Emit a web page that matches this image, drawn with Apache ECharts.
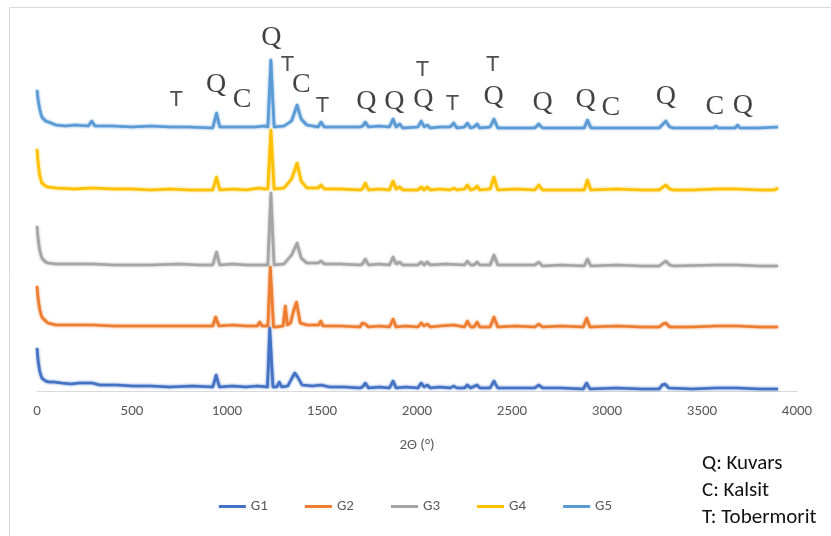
<!DOCTYPE html>
<html>
<head>
<meta charset="utf-8">
<script src="https://cdn.jsdelivr.net/npm/echarts/dist/echarts.min.js"></script>
<style>
html, body { margin: 0; padding: 0; background: #fff; }
#chart { width: 831px; height: 536px; }
</style>
</head>
<body>
<div id="chart"></div>
<script>
// X-ray diffraction patterns of five samples, stacked with vertical offsets.
const seriesNames = ['G1', 'G2', 'G3', 'G4', 'G5'];
const seriesColors = ['#4472C4', '#ED7D31', '#A5A5A5', '#FFC000', '#5B9BD5'];

const xTickStep = 500;
const xMin = 0;
const xMax = 4000;

// [2θ, intensity] pairs (intensity includes the stacking offset)
const g1 = [[0,43],[6,30],[14,20],[25,13],[45,10],[60,9],[90,9],[129,8],[180,7],[220,8],[255,8],[290,8],[330,6],[420,6],[500,5],[600,5],[700,4],[820,5],[925,4],[943,16],[960,4],[1030,5],[1100,4],[1160,5],[1213,4],[1225,63],[1242,4],[1262,4],[1275,9],[1288,4],[1320,5],[1342,13],[1357,18],[1372,14],[1395,6],[1450,5],[1495,6],[1540,4],[1620,4],[1700,3],[1713,4],[1728,8],[1745,3],[1800,4],[1855,3],[1874,10],[1890,3],[1940,4],[2005,3],[2022,8],[2038,4],[2054,6],[2070,3],[2120,4],[2175,3],[2193,5],[2210,3],[2250,3],[2265,6],[2282,3],[2317,6],[2330,3],[2385,3],[2405,10],[2425,3],[2520,3],[2620,3],[2641,6],[2660,3],[2760,3],[2875,2],[2893,8],[2910,2],[3050,3],[3180,2],[3275,2],[3290,6],[3305,7],[3325,3],[3450,2],[3573,3],[3687,3],[3800,2],[3900,2]];

const g2 = [[0,105],[6,92],[14,82],[25,74],[45,70],[58,68],[100,66],[200,66],[300,66],[400,65],[500,65],[600,65],[700,65],[800,65],[925,65],[940,74],[958,65],[1030,66],[1100,65],[1160,65],[1172,69],[1185,65],[1215,65],[1228,124],[1245,64],[1258,64],[1295,65],[1307,85],[1318,66],[1335,68],[1350,80],[1366,89],[1385,68],[1420,66],[1482,66],[1494,70],[1505,65],[1600,65],[1700,64],[1712,68],[1720,66],[1728,67],[1745,64],[1800,65],[1855,64],[1874,72],[1890,64],[1940,65],[2005,64],[2022,68],[2038,65],[2054,67],[2070,64],[2120,65],[2193,66],[2250,64],[2265,70],[2282,64],[2300,64],[2317,69],[2330,64],[2385,64],[2405,74],[2425,64],[2520,65],[2620,64],[2641,67],[2660,64],[2760,65],[2875,64],[2893,73],[2910,64],[3050,65],[3180,64],[3275,64],[3295,67],[3309,68],[3330,64],[3450,64],[3573,65],[3687,65],[3800,64],[3900,64]];

const g3 = [[0,165],[6,152],[14,141],[25,133],[45,129],[58,128],[100,127],[200,127],[300,127],[400,126],[500,126],[600,126],[750,127],[850,126],[925,126],[945,139],[962,126],[1030,127],[1100,126],[1160,126],[1215,126],[1231,198],[1248,126],[1300,127],[1340,136],[1369,148],[1390,133],[1420,128],[1480,128],[1495,130],[1512,127],[1600,127],[1700,126],[1713,127],[1728,132],[1745,126],[1800,127],[1855,126],[1874,134],[1890,127],[1909,129],[1925,126],[2005,126],[2022,129],[2038,126],[2054,129],[2070,126],[2150,127],[2250,126],[2265,130],[2282,126],[2300,126],[2317,129],[2330,126],[2385,126],[2405,136],[2425,126],[2520,126],[2620,126],[2641,129],[2660,125],[2760,126],[2880,125],[2897,132],[2915,125],[3050,126],[3180,125],[3275,125],[3295,128],[3309,130],[3330,126],[3350,125],[3573,126],[3687,126],[3800,125],[3900,125]];

const g4 = [[0,242],[6,228],[14,216],[25,208],[45,205],[58,204],[100,203],[200,202],[288,203],[400,202],[500,202],[600,201],[700,202],[800,201],[925,201],[945,214],[962,201],[1030,202],[1100,201],[1170,203],[1195,202],[1215,202],[1231,261],[1248,202],[1300,203],[1340,212],[1369,228],[1390,210],[1420,203],[1480,203],[1495,206],[1512,202],[1600,202],[1700,201],[1713,202],[1728,208],[1745,201],[1800,202],[1855,201],[1874,210],[1890,202],[1909,204],[1925,201],[2005,201],[2022,204],[2038,201],[2054,204],[2070,201],[2120,202],[2175,201],[2193,203],[2210,201],[2250,202],[2265,206],[2282,201],[2300,202],[2317,205],[2330,201],[2385,202],[2405,214],[2425,201],[2520,202],[2620,201],[2641,206],[2660,201],[2760,201],[2880,201],[2897,211],[2915,201],[3050,202],[3180,201],[3275,201],[3295,204],[3309,206],[3330,202],[3350,201],[3450,201],[3573,202],[3687,202],[3800,201],[3880,201],[3900,203]];

const g5 = [[0,301],[6,291],[14,282],[25,274],[45,270],[60,269],[100,266],[150,265],[200,266],[270,265],[288,270],[305,265],[400,265],[500,264],[600,265],[700,264],[800,264],[925,263],[945,278],[962,264],[1050,264],[1150,264],[1195,265],[1215,264],[1231,331],[1248,264],[1300,265],[1340,270],[1369,286],[1390,272],[1420,266],[1480,264],[1495,269],[1512,264],[1600,264],[1700,264],[1715,265],[1728,269],[1745,264],[1800,265],[1855,264],[1874,272],[1890,264],[1909,267],[1925,263],[2005,264],[2022,270],[2038,264],[2054,266],[2070,263],[2120,264],[2175,264],[2193,268],[2210,263],[2250,264],[2265,268],[2282,263],[2300,264],[2317,267],[2330,263],[2385,264],[2405,272],[2425,263],[2500,263],[2620,263],[2641,267],[2660,263],[2780,263],[2880,263],[2897,271],[2915,263],[3000,263],[3150,263],[3275,263],[3295,267],[3309,270],[3330,264],[3350,263],[3460,263],[3560,263],[3573,265],[3585,263],[3675,263],[3687,266],[3700,263],[3800,263],[3900,264]];

// Phase markers: [2θ, height, phase letter]
const phaseMarks = [
  [733,291,'T'],[943,306,'Q'],[1080,291,'C'],[1233,353,'Q'],[1318,326,'T'],
  [1391,306,'C'],[1502,285,'T'],[1734,289,'Q'],[1881,289,'Q'],[2029,321,'T'],
  [2034,291,'Q'],[2187,287,'T'],[2398,326,'T'],[2403,294,'Q'],[2661,288,'Q'],
  [2888,291,'Q'],[3020,283,'C'],[3310,294,'Q'],[3568,284,'C'],[3715,285,'Q']
];

const phaseKey = ['Q: Kuvars', 'C: Kalsit', 'T: Tobermorit'];
const xAxisTitle = '2\u0398 (\u00b0)';

const seriesData = [g1, g2, g3, g4, g5];
const uiFont = 'Carlito, "Open Sans", sans-serif';

const chart = echarts.init(document.getElementById('chart'), null, { renderer: 'canvas' });

const lineSeries = seriesNames.map((name, i) => ({
  name: name,
  type: 'line',
  data: seriesData[i],
  showSymbol: false,
  symbol: 'none',
  silent: true,
  animation: false,
  lineStyle: {
    color: seriesColors[i],
    width: 2.6,
    join: 'round',
    shadowColor: seriesColors[i],
    shadowBlur: 2.5
  },
  itemStyle: { color: seriesColors[i] }
}));

const markSeries = {
  name: 'phases',
  type: 'scatter',
  data: phaseMarks,
  symbolSize: 0,
  silent: true,
  animation: false,
  label: {
    show: true,
    position: 'inside',
    formatter: p => '{' + (p.value[2] === 'T' ? 't' : 'qc') + '|' + p.value[2] + '}',
    rich: {
      qc: { fontFamily: '"Liberation Serif", serif', fontSize: 28, color: '#111' },
      t: { fontFamily: '"Liberation Sans", sans-serif', fontSize: 22, color: '#222' }
    }
  }
};

chart.setOption({
  backgroundColor: '#fff',
  animation: false,
  grid: { left: 37, right: 34, top: 31, bottom: 145, containLabel: false },
  xAxis: {
    type: 'value',
    min: xMin,
    max: xMax,
    interval: xTickStep,
    name: xAxisTitle,
    nameLocation: 'middle',
    nameGap: 47,
    nameTextStyle: { color: '#595959', fontSize: 15, fontFamily: uiFont },
    axisLine: { show: true, lineStyle: { color: '#d9d9d9', width: 1 } },
    axisTick: { show: false },
    splitLine: { show: false },
    axisLabel: {
      color: '#595959',
      fontSize: 15,
      fontFamily: uiFont,
      margin: 13,
      formatter: v => String(v)
    }
  },
  yAxis: {
    type: 'value',
    min: 0,
    max: 360,
    show: false
  },
  legend: {
    data: seriesNames,
    left: 'center',
    top: 494,
    icon: 'rect',
    itemWidth: 27,
    itemHeight: 3,
    itemGap: 37,
    textStyle: { color: '#595959', fontSize: 15, fontFamily: uiFont }
  },
  graphic: [
    {
      type: 'rect',
      silent: true,
      shape: { x: 9.5, y: 7.5, width: 860, height: 560 },
      style: { fill: 'none', stroke: '#d9d9d9', lineWidth: 1 }
    },
    ...phaseKey.map((txt, i) => ({
      type: 'text',
      silent: true,
      left: 702,
      top: 453 + i * 27,
      style: { text: txt, fill: '#111', fontSize: 21, fontFamily: uiFont }
    }))
  ],
  series: [...lineSeries, markSeries]
});
</script>
</body>
</html>
